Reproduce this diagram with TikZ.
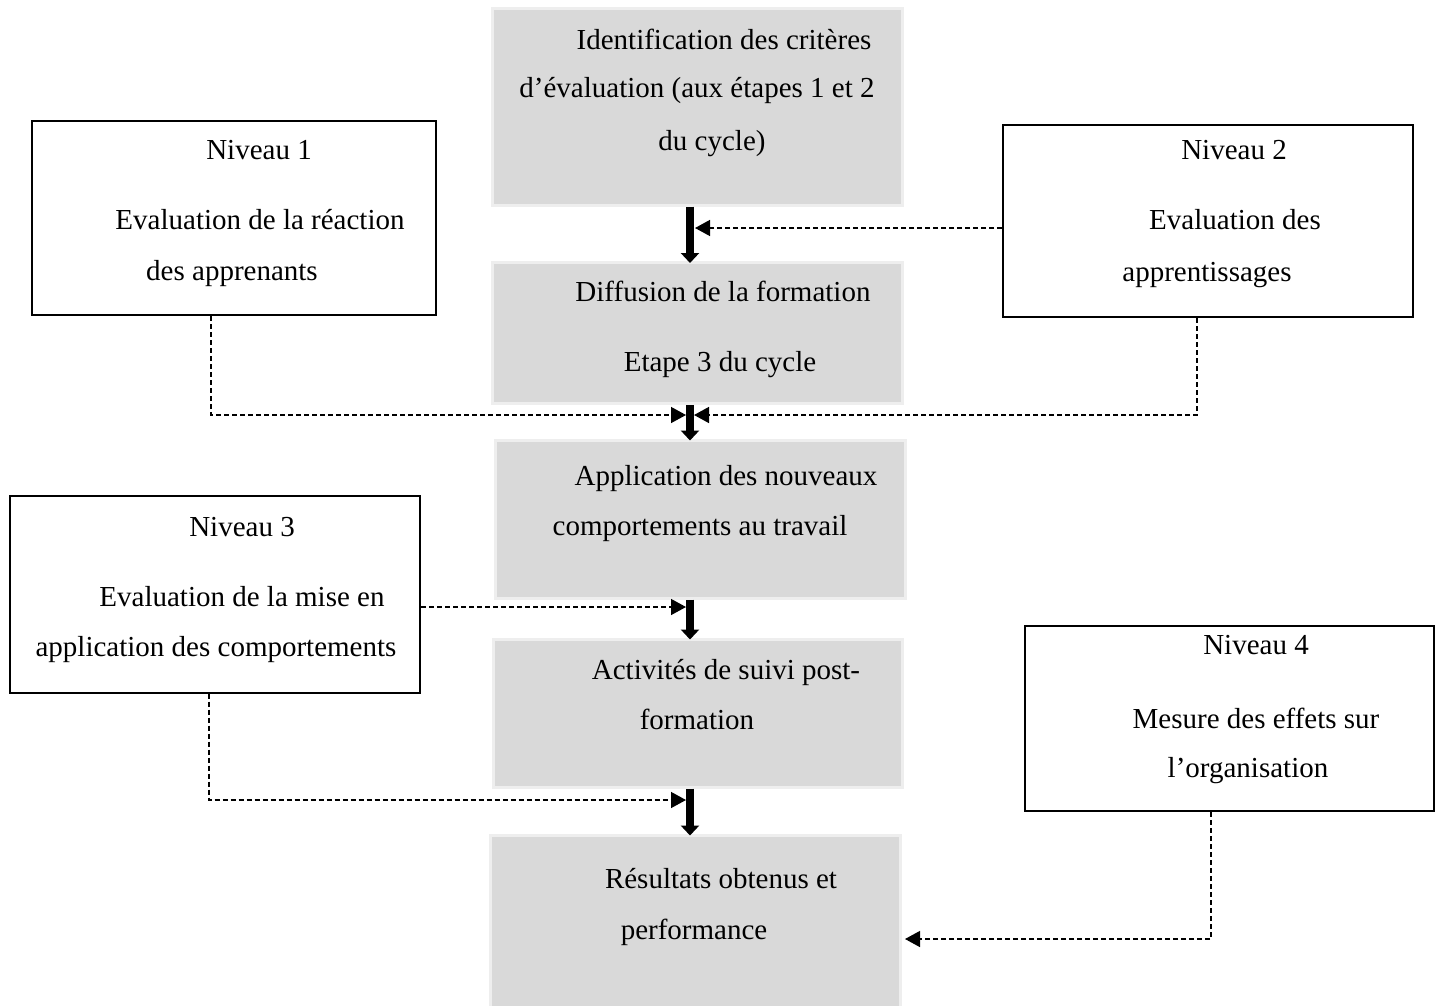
\documentclass[tikz,border=0pt]{standalone}
\usepackage{fontspec}
\setmainfont{Liberation Serif}
\usetikzlibrary{arrows.meta}
\definecolor{stagefill}{HTML}{D9D9D9}
\definecolor{stageedge}{HTML}{EEEEEE}
\begin{document}
\begin{tikzpicture}[x=1pt,y=-1pt,
  stage/.style={fill=stagefill, draw=stageedge, line width=3pt, inner sep=0pt},
  level/.style={fill=white, draw=black, line width=2pt, inner sep=0pt},
  txt/.style={inner sep=0pt, anchor=base, font=\fontsize{29}{34}\selectfont},
  flow/.style={line width=8pt, -{Triangle[width=18pt,length=10pt]}},
  feedline/.style={dash pattern=on 5pt off 3pt, line width=1.4pt},
  feed/.style={feedline, -{Triangle[width=16pt,length=15pt]}}
]
\useasboundingbox (0,0) rectangle (1437,1005);

% training cycle stages (grey)
\node[stage, minimum width=410pt, minimum height=197pt] (g1) at (697,106.5) {};
\node[stage, minimum width=410pt, minimum height=141pt] (g2) at (697,333) {};
\node[stage, minimum width=410pt, minimum height=158pt] (g3) at (700,519) {};
\node[stage, minimum width=409pt, minimum height=148pt] (g4) at (697.5,713) {};
\node[stage, minimum width=410pt, minimum height=172pt] (g5) at (695,921) {};

% evaluation levels (framed)
\node[level, minimum width=404pt, minimum height=194pt] (n1) at (234,218) {};
\node[level, minimum width=410pt, minimum height=192pt] (n2) at (1208,221) {};
\node[level, minimum width=410pt, minimum height=197pt] (n3) at (215,594) {};
\node[level, minimum width=409pt, minimum height=185pt] (n4) at (1229.5,718.5) {};

% stage texts
\node[txt] (g1a) at (724,49) {Identification des critères};
\node[txt] (g1b) at (697,97) {d’évaluation (aux étapes 1 et 2};
\node[txt] (g1c) at (712,150) {du cycle)};
\node[txt] (g2a) at (723,301) {Diffusion de la formation};
\node[txt] (g2b) at (720,371) {Etape 3 du cycle};
\node[txt] (g3a) at (726,485) {Application des nouveaux};
\node[txt] (g3b) at (700,535) {comportements au travail};
\node[txt] (g4a) at (726,679) {Activités de suivi post-};
\node[txt] (g4b) at (697,729) {formation};
\node[txt] (g5a) at (721,888) {Résultats obtenus et};
\node[txt] (g5b) at (694,939) {performance};

% level texts
\node[txt] (n1a) at (259,159) {Niveau 1};
\node[txt] (n1b) at (260,229) {Evaluation de la réaction};
\node[txt] (n1c) at (232,280) {des apprenants};
\node[txt] (n2a) at (1234,159) {Niveau 2};
\node[txt] (n2b) at (1235,229) {Evaluation des};
\node[txt] (n2c) at (1207,281) {apprentissages};
\node[txt] (n3a) at (242,536) {Niveau 3};
\node[txt] (n3b) at (242,606) {Evaluation de la mise en};
\node[txt] (n3c) at (216,656) {application des comportements};
\node[txt] (n4a) at (1256,654) {Niveau 4};
\node[txt] (n4b) at (1256,728) {Mesure des effets sur};
\node[txt] (n4c) at (1248,777) {l’organisation};

% main flow between stages
\coordinate (ax) at (690,0);
\draw[flow] (ax |- g1.south) -- ([yshift=-2pt]ax |- g2.north);
\draw[flow] (ax |- g2.south) -- ([yshift=-2pt]ax |- g3.north);
\draw[flow] (ax |- g3.south) -- ([yshift=-2pt]ax |- g4.north);
\draw[flow] (ax |- g4.south) -- ([yshift=-2pt]ax |- g5.north);

% feedback from the evaluation levels
\coordinate (e2) at (695,228);
\draw[feed] (n2.west |- e2) -- (e2);

\coordinate (j1) at (211,415);
\coordinate (e1) at (686,415);
\draw[feed] (n1.south -| j1) -- (j1) -- (e1);

\coordinate (j2) at (1197,415);
\coordinate (e2b) at (694,415);
\draw[feed] (n2.south -| j2) -- (j2) -- (e2b);

\coordinate (e3) at (686,607);
\draw[feed] (n3.east |- e3) -- (e3);

\coordinate (j3) at (209,800);
\coordinate (e3b) at (686,800);
\draw[feed] (n3.south -| j3) -- (j3) -- (e3b);

\coordinate (j4) at (1211,939);
\coordinate (e4) at (905,939);
\draw[feed] (n4.south -| j4) -- (j4) -- (e4);
\end{tikzpicture}
\end{document}
